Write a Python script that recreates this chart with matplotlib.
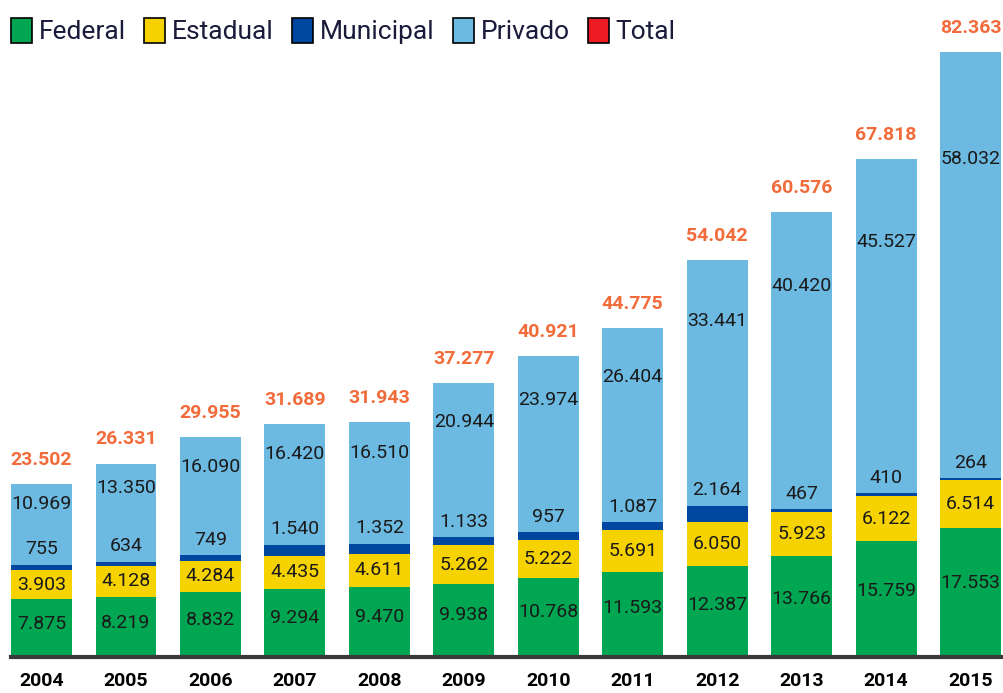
import numpy as np
import matplotlib.pyplot as plt
from matplotlib.patches import Patch

plt.rcParams['font.family'] = ['Roboto', 'DejaVu Sans']

years = ['2004', '2005', '2006', '2007', '2008', '2009', '2010', '2011',
         '2012', '2013', '2014', '2015']
federal = [7875, 8219, 8832, 9294, 9470, 9938, 10768, 11593, 12387, 13766, 15759, 17553]
estadual = [3903, 4128, 4284, 4435, 4611, 5262, 5222, 5691, 6050, 5923, 6122, 6514]
municipal = [755, 634, 749, 1540, 1352, 1133, 957, 1087, 2164, 467, 410, 264]
privado = [10969, 13350, 16090, 16420, 16510, 20944, 23974, 26404, 33441, 40420, 45527, 58032]
total = [23502, 26331, 29955, 31689, 31943, 37277, 40921, 44775, 54042, 60576, 67818, 82363]

c_fed = '#00a651'
c_est = '#f5d200'
c_mun = '#0047a0'
c_pri = '#6cb9e1'
c_tot = '#ed1c24'
c_lab = '#f26b3a'


def fmt(v):
    return f'{v:,}'.replace(',', '.')


fig = plt.figure(figsize=(10.04, 6.93), dpi=100)
ax = fig.add_axes([0.011, 0.052, 0.986, 0.948])

x = np.arange(len(years))
w = 0.72
fed = np.array(federal)
est = np.array(estadual)
mun = np.array(municipal)
pri = np.array(privado)

ax.bar(x, fed, w, color=c_fed)
ax.bar(x, est, w, bottom=fed, color=c_est)
ax.bar(x, mun, w, bottom=fed + est, color=c_mun)
ax.bar(x, pri, w, bottom=fed + est + mun, color=c_pri)

txt = dict(ha='center', va='center', fontsize=14, color='#1a1a1a')
for i in range(len(years)):
    ax.text(x[i], fed[i] * 0.57, fmt(federal[i]), **txt)
    ax.text(x[i], fed[i] + est[i] / 2, fmt(estadual[i]), **txt)
    base = fed[i] + est[i] + mun[i]
    ax.text(x[i], base + 2100, fmt(municipal[i]), **txt)
    ax.text(x[i], base + pri[i] * 0.75, fmt(privado[i]), **txt)
    ax.text(x[i], total[i] + 3300, fmt(total[i]), ha='center', va='center',
            fontsize=14, fontweight='bold', color=c_lab)

ax.set_xlim(-0.36, 11.36)
ax.set_ylim(0, 89450)
ax.axhline(0, color='#3a3a3a', lw=3, clip_on=False)
for s in ax.spines.values():
    s.set_visible(False)
ax.set_yticks([])
ax.set_xticks(x)
ax.set_xticklabels(years, fontsize=14, fontweight='bold')
ax.tick_params(axis='x', length=0, pad=11)

handles = [Patch(facecolor=c, edgecolor='black', lw=1.2) for c in [c_fed, c_est, c_mun, c_pri, c_tot]]
fig.legend(handles, ['Federal', 'Estadual', 'Municipal', 'Privado', 'Total'],
           loc='upper left', bbox_to_anchor=(-0.013, 1.008), ncol=5, frameon=False,
           fontsize=19, handlelength=0.8, handleheight=1.05, handletextpad=0.25,
           columnspacing=0.7, labelcolor='#1a1a3a')

fig.savefig('out.png', dpi=100)
